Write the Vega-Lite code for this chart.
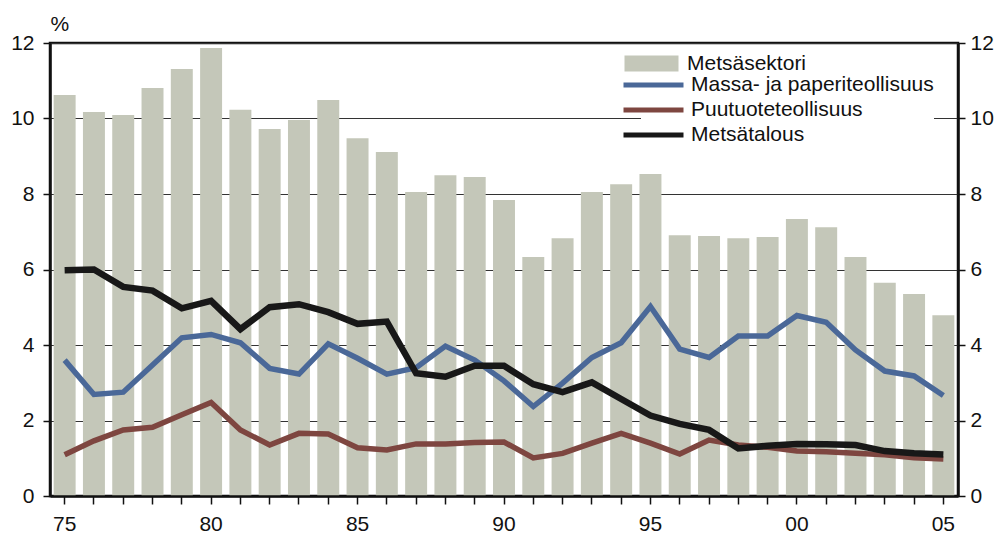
{
 "$schema": "https://vega.github.io/schema/vega-lite/v6.json",
 "width": 908, "height": 453,
 "autosize": {"type": "none"},
 "padding": {"left": 50, "top": 43, "right": 42, "bottom": 43},
 "background": "white",
 "config": {
  "view": {"stroke": "#111", "strokeWidth": 2.5},
  "font": "Liberation Sans",
  "axis": {"labelFont": "Liberation Sans", "labelFontSize": 21, "labelColor": "#111", "tickColor": "#111", "domainColor": "#111", "domainWidth": 2.5, "tickWidth": 1.5},
  "legend": {"labelFont": "Liberation Sans", "labelFontSize": 21, "labelColor": "#111", "labelLimit": 0}
 },
 "data": {"values": [
  {"year": 1975, "s": 10.62, "m": 3.60, "p": 1.09, "t": 5.98},
  {"year": 1976, "s": 10.17, "m": 2.69, "p": 1.46, "t": 6.00},
  {"year": 1977, "s": 10.09, "m": 2.75, "p": 1.75, "t": 5.54},
  {"year": 1978, "s": 10.81, "m": 3.47, "p": 1.82, "t": 5.44},
  {"year": 1979, "s": 11.31, "m": 4.19, "p": 2.15, "t": 4.97},
  {"year": 1980, "s": 11.87, "m": 4.28, "p": 2.48, "t": 5.17},
  {"year": 1981, "s": 10.23, "m": 4.06, "p": 1.75, "t": 4.42},
  {"year": 1982, "s": 9.72, "m": 3.38, "p": 1.35, "t": 5.00},
  {"year": 1983, "s": 9.96, "m": 3.23, "p": 1.66, "t": 5.08},
  {"year": 1984, "s": 10.49, "m": 4.03, "p": 1.64, "t": 4.87},
  {"year": 1985, "s": 9.48, "m": 3.65, "p": 1.28, "t": 4.56},
  {"year": 1986, "s": 9.11, "m": 3.23, "p": 1.22, "t": 4.62},
  {"year": 1987, "s": 8.05, "m": 3.40, "p": 1.38, "t": 3.25},
  {"year": 1988, "s": 8.50, "m": 3.97, "p": 1.38, "t": 3.16},
  {"year": 1989, "s": 8.45, "m": 3.60, "p": 1.42, "t": 3.45},
  {"year": 1990, "s": 7.84, "m": 3.05, "p": 1.43, "t": 3.45},
  {"year": 1991, "s": 6.33, "m": 2.37, "p": 1.01, "t": 2.96},
  {"year": 1992, "s": 6.83, "m": 2.99, "p": 1.13, "t": 2.75},
  {"year": 1993, "s": 8.05, "m": 3.67, "p": 1.40, "t": 3.01},
  {"year": 1994, "s": 8.26, "m": 4.06, "p": 1.66, "t": 2.57},
  {"year": 1995, "s": 8.53, "m": 5.02, "p": 1.40, "t": 2.13},
  {"year": 1996, "s": 6.91, "m": 3.89, "p": 1.11, "t": 1.91},
  {"year": 1997, "s": 6.89, "m": 3.67, "p": 1.48, "t": 1.75},
  {"year": 1998, "s": 6.83, "m": 4.24, "p": 1.35, "t": 1.26},
  {"year": 1999, "s": 6.86, "m": 4.24, "p": 1.29, "t": 1.33},
  {"year": 2000, "s": 7.34, "m": 4.78, "p": 1.19, "t": 1.38},
  {"year": 2001, "s": 7.12, "m": 4.60, "p": 1.17, "t": 1.37},
  {"year": 2002, "s": 6.33, "m": 3.87, "p": 1.13, "t": 1.35},
  {"year": 2003, "s": 5.65, "m": 3.31, "p": 1.09, "t": 1.19},
  {"year": 2004, "s": 5.35, "m": 3.18, "p": 1.01, "t": 1.13},
  {"year": 2005, "s": 4.79, "m": 2.66, "p": 0.98, "t": 1.10}
 ]},
 "encoding": {
  "x": {"field": "year", "type": "ordinal",
   "scale": {"paddingInner": 0.25, "paddingOuter": 0.125},
   "axis": {"title": null, "labelExpr": "datum.value % 5 == 0 ? substring(toString(datum.value), 2) : ''", "labelAngle": 0, "labelOverlap": false, "labelFlush": false, "tickSize": 8, "labelPadding": 9, "zindex": 1, "domainWidth": 2.5}}
 },
 "layer": [
  {
   "mark": {"type": "bar"},
   "encoding": {
    "y": {"field": "s", "type": "quantitative", "scale": {"domain": [0, 12], "nice": false},
     "axis": {"orient": "left", "values": [0, 2, 4, 6, 8, 10, 12], "grid": true, "gridColor": "#333", "gridWidth": 1, "tickSize": 7, "labelPadding": 9,
      "title": "%", "titleAngle": 0, "titleAlign": "left", "titleX": 0, "titleY": -13, "titleBaseline": "alphabetic", "titleFontSize": 21, "titleFontWeight": "normal", "titleFont": "Liberation Sans", "titleColor": "#111"}},
    "fill": {"datum": "Metsäsektori", "type": "nominal",
     "scale": {"domain": ["Metsäsektori"], "range": ["#C4C7B9"]},
     "legend": {"orient": "none", "legendX": 587, "legendY": 6, "title": null, "symbolType": "M-2.7,-0.8H2.7V0.8H-2.7Z", "symbolSize": 400, "symbolStrokeWidth": 0, "labelOffset": 25, "padding": 4, "fillColor": "white"}}
   }
  },
  {
   "layer": [
    {
     "mark": {"type": "line", "strokeWidth": 5.5},
     "encoding": {
      "y": {"field": "p", "type": "quantitative", "scale": {"domain": [0, 12], "nice": false},
       "axis": {"orient": "right", "values": [0, 2, 4, 6, 8, 10, 12], "grid": false, "tickSize": 7, "labelPadding": 5, "title": null}},
      "stroke": {"datum": "Puutuoteteollisuus", "type": "nominal",
       "scale": {"domain": ["Massa- ja paperiteollisuus", "Puutuoteteollisuus", "Metsätalous"], "range": ["#4A6898", "#7E4640", "#181818"]},
       "legend": {"orient": "none", "legendX": 591, "legendY": 29.5, "title": null, "symbolType": "M-3,0H3", "symbolSize": 400, "symbolStrokeWidth": 5, "labelOffset": 25, "padding": 0, "fillColor": "white", "rowPadding": 2}}
     }
    },
    {
     "mark": {"type": "line", "strokeWidth": 5.5},
     "encoding": {
      "y": {"field": "m", "type": "quantitative"},
      "stroke": {"datum": "Massa- ja paperiteollisuus", "type": "nominal"}
     }
    },
    {
     "mark": {"type": "line", "strokeWidth": 6.5},
     "encoding": {
      "y": {"field": "t", "type": "quantitative"},
      "stroke": {"datum": "Metsätalous", "type": "nominal"}
     }
    }
   ]
  }
 ],
 "resolve": {"scale": {"y": "independent"}}
}
